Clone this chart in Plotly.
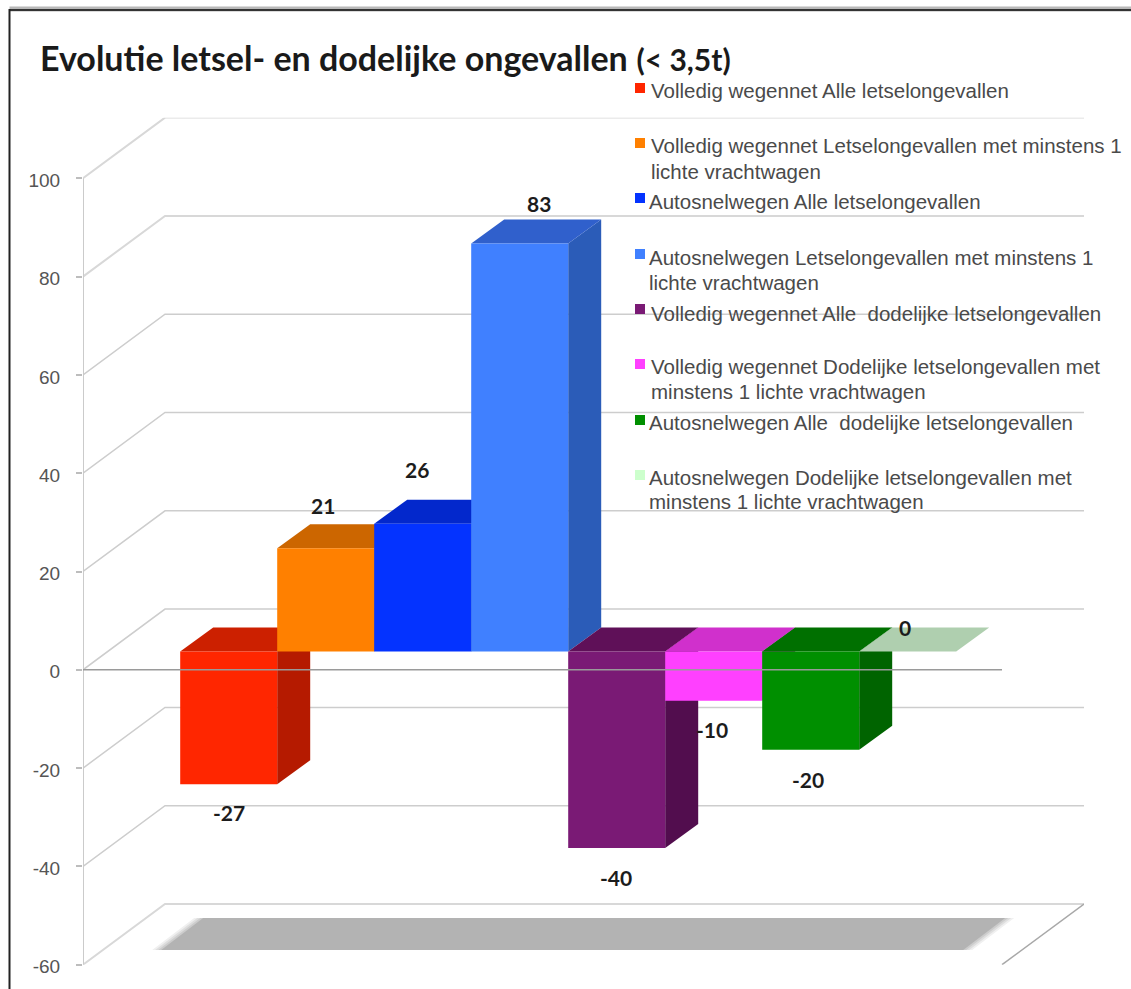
import plotly.graph_objects as go

# ---------- data ----------
TITLE_MAIN = "Evolutie letsel- en dodelijke ongevallen"
TITLE_NOTE = "(< 3,5t)"
values = [-27, 21, 26, 83, -40, -10, -20, 0]
value_labels = ["-27", "21", "26", "83", "-40", "-10", "-20", "0"]
y_ticks = [-60, -40, -20, 0, 20, 40, 60, 80, 100]
legend_lines = [
    ["Volledig wegennet Alle letselongevallen"],
    ["Volledig wegennet Letselongevallen met minstens 1", "lichte vrachtwagen"],
    ["Autosnelwegen Alle letselongevallen"],
    ["Autosnelwegen Letselongevallen met minstens 1", "lichte vrachtwagen"],
    ["Volledig wegennet Alle  dodelijke letselongevallen"],
    ["Volledig wegennet Dodelijke letselongevallen met", "minstens 1 lichte vrachtwagen"],
    ["Autosnelwegen Alle  dodelijke letselongevallen"],
    ["Autosnelwegen Dodelijke letselongevallen met", "minstens 1 lichte vrachtwagen"],
]

# ---------- colours ----------
front_colors = ["#ff2600", "#ff8000", "#0433ff", "#4080ff", "#7a1a75", "#ff40ff", "#008f00", "#ccffcc"]
side_colors = ["#b51a00", "#b35a00", "#0328b0", "#2b5cb8", "#520d4e", "#b02db0", "#006400", "#afcfaf"]
top_colors = ["#cc2000", "#cc6600", "#0328cc", "#3060cc", "#5f1058", "#d030cc", "#007000", "#afcfaf"]

# ---------- layout geometry ----------
W, H = 1131, 989
PX_LEFT, PX_RIGHT = 83.0, 1084.0
PX_TOP, PX_BOTTOM = 117.7, 964.7
PX_PER_UNIT_Y = 4.915
PX_PER_BAR = 97.0
PX_FIRST_BAR = 228.7


def fx(px):
    return px / W


def fy(py):
    return 1 - py / H


x_min = (PX_LEFT - PX_FIRST_BAR) / PX_PER_BAR
x_max = (PX_RIGHT - PX_FIRST_BAR) / PX_PER_BAR
y_max = -60 + (PX_BOTTOM - PX_TOP) / PX_PER_UNIT_Y

wall_dx = 82.0 / PX_PER_BAR
wall_dy = 60.7 / PX_PER_UNIT_Y
bar_lift = 18.3 / PX_PER_UNIT_Y
bar_dx = 33.0 / PX_PER_BAR
bar_dy = 24.0 / PX_PER_UNIT_Y

fig = go.Figure()


def poly(xs, ys, color, z):
    fig.add_trace(go.Scatter(x=xs + xs[:1], y=ys + ys[:1], mode="lines", fill="toself",
                             fillcolor=color, line=dict(width=0, color=color),
                             hoverinfo="skip", showlegend=False, zorder=z))


# gridlines: side wall + back wall
for t in y_ticks:
    c, w = ("#d8d8d8", 2) if t in (100, 80, -60) else ("#cdcdcd", 1.5)
    fig.add_trace(go.Scatter(x=[x_min, x_min + wall_dx, x_max], y=[t, t + wall_dy, t + wall_dy],
                             mode="lines", line=dict(color=c, width=w),
                             hoverinfo="skip", showlegend=False, zorder=0))
# vertical axis
fig.add_trace(go.Scatter(x=[x_min, x_min], y=[-60, 100], mode="lines",
                         line=dict(color="#cbcbcb", width=2), hoverinfo="skip",
                         showlegend=False, zorder=0))
# floor edge on the right
fig.add_trace(go.Scatter(x=[x_max - wall_dx, x_max], y=[-60, -60 + wall_dy], mode="lines",
                         line=dict(color="#a8a8a8", width=1.5), hoverinfo="skip",
                         showlegend=False, zorder=0))

# floor shadow, soft edge from a few layers
sh_y0, sh_y1 = -60 + 14.7 / PX_PER_UNIT_Y, -60 + 46.7 / PX_PER_UNIT_Y
sh_x0, sh_x1 = -0.5 - 20 / PX_PER_BAR, 7.5 + 8 / PX_PER_BAR
sh_skew = 42 / PX_PER_BAR
for pad_px, col in [(8, "#f0f0f0"), (5, "#dedede"), (2, "#cccccc"), (-1, "#b3b3b3")]:
    pad = pad_px / PX_PER_BAR
    poly([sh_x0 - pad, sh_x0 + sh_skew - pad, sh_x1 + sh_skew + pad, sh_x1 + pad],
         [sh_y0, sh_y1, sh_y1, sh_y0], col, 1)

# 3-D looking bars, painted left to right
for i, v in enumerate(values):
    z = 2 + 2 * i
    lo, hi = min(v, 0) + bar_lift, max(v, 0) + bar_lift
    xl, xr = i - 0.5, i + 0.5
    if v != 0:
        poly([xr, xr + bar_dx, xr + bar_dx, xr], [lo, lo + bar_dy, hi + bar_dy, hi], side_colors[i], z)
    poly([xl, xl + bar_dx, xr + bar_dx, xr], [hi, hi + bar_dy, hi + bar_dy, hi], top_colors[i], z)
    if v != 0:
        fig.add_trace(go.Bar(x=[i], y=[v], base=[bar_lift], width=[1.0],
                             marker=dict(color=front_colors[i], line=dict(width=0)),
                             hoverinfo="skip", showlegend=False, zorder=z + 1))

# zero line in front of the bars
fig.add_trace(go.Scatter(x=[x_min, x_max - wall_dx], y=[0, 0], mode="lines",
                         line=dict(color="#9a9a9a", width=1.5), hoverinfo="skip",
                         showlegend=False, zorder=40))

annotations = []
# value labels (offsets relative to the bar ends, in pixels)
label_dx = [0, -3, -6, 19, -1, -2, -3, -3]
label_dy = [-28, 43, 54, 40, -29, -29, -30, 24]
for i, (v, s) in enumerate(zip(values, value_labels)):
    annotations.append(dict(x=i, y=v + bar_lift, xref="x", yref="y", text=s, showarrow=False,
                            xshift=label_dx[i], yshift=label_dy[i],
                            font=dict(family="Lato", size=21, color="#1c1c1c", weight="bold")))

# title
annotations.append(dict(x=fx(38), y=fy(58), xref="paper", yref="paper", xanchor="left", yanchor="middle",
                        showarrow=False, text=f"<b>{TITLE_MAIN}</b> <b><span style='font-size:30px'>{TITLE_NOTE}</span></b>",
                        font=dict(family="Lato", size=34, color="#1a1a1a")))

# hand placed key
key_text_x = [649, 649, 647, 647, 649, 649, 647, 647]
key_text_y = [91, 146, 201, 257, 313, 366, 422, 477]
key_box_y = [88, 143, 198, 254, 309, 364, 420, 475]
shapes = []
for i, lines in enumerate(legend_lines):
    shapes.append(dict(type="rect", xref="paper", yref="paper", x0=fx(635), x1=fx(645),
                       y0=fy(key_box_y[i] + 5), y1=fy(key_box_y[i] - 5),
                       fillcolor=front_colors[i], line=dict(width=0)))
    for j, line in enumerate(lines):
        annotations.append(dict(x=fx(key_text_x[i]), y=fy(key_text_y[i] + 25 * j), xref="paper", yref="paper",
                                xanchor="left", yanchor="middle", showarrow=False, text=line,
                                font=dict(family="Liberation Sans", size=20.5, color="#4a4a4a")))

# frame of the picture
shapes.append(dict(type="line", xref="paper", yref="paper", x0=fx(9.5), x1=1, y0=fy(9), y1=fy(9),
                   line=dict(color="#b8b8b8", width=5)))
shapes.append(dict(type="line", xref="paper", yref="paper", x0=fx(9.5), x1=1, y0=fy(10), y1=fy(10),
                   line=dict(color="#333333", width=2)))
shapes.append(dict(type="line", xref="paper", yref="paper", x0=fx(9.5), x1=fx(9.5), y0=0, y1=fy(9),
                   line=dict(color="#222222", width=2)))

fig.update_layout(
    width=W, height=H, margin=dict(l=0, r=0, t=0, b=0, pad=0),
    paper_bgcolor="white", plot_bgcolor="white", showlegend=False, barmode="overlay",
    xaxis=dict(domain=[fx(PX_LEFT), fx(PX_RIGHT)], range=[x_min, x_max], visible=False, automargin=False),
    yaxis=dict(domain=[fy(PX_BOTTOM), fy(PX_TOP)], range=[-60, y_max], tickmode="array", automargin=False,
               tickvals=y_ticks, ticktext=[str(t) for t in y_ticks], showgrid=False, zeroline=False,
               showline=False, ticks="outside", ticklen=6, tickwidth=1.5, tickcolor="#bdbdbd",
               ticklabelstandoff=12, ticklabelshift=2,
               tickfont=dict(family="Liberation Sans", size=19, color="#555555")),
    annotations=annotations, shapes=shapes,
)

fig.write_html("out.html", config=dict(displayModeBar=False),
               post_script="document.body.style.margin='0';")
